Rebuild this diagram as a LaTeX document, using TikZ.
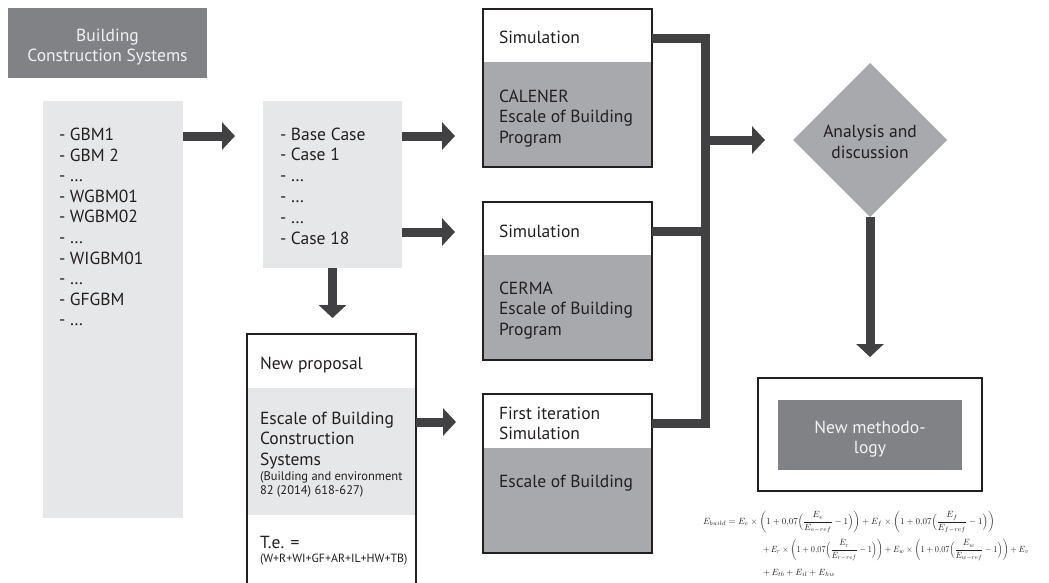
\documentclass[tikz,border=0pt]{standalone}
\usepackage{amsmath}
\usepackage{graphicx}
\usepackage{fontspec}
\setmainfont{PT Sans}
\usetikzlibrary{arrows.meta,shapes.geometric,calc}

\definecolor{boxdark}{HTML}{808285}
\definecolor{midgray}{HTML}{A7A9AC}
\definecolor{lightgray}{HTML}{E6E7E8}
\definecolor{arrowc}{HTML}{414042}
\definecolor{ink}{HTML}{231F20}
\definecolor{paper}{HTML}{F1F2F2}

\begin{document}
\begin{tikzpicture}[x=1pt,y=-1pt,
  every node/.style={inner sep=0pt, outer sep=0pt},
  bodyfont/.style={font=\fontsize{17.5}{20.6}\selectfont},
  txt/.style={bodyfont, text=ink, anchor=base west},
  smalltxt/.style={font=\fontsize{12.5}{14}\selectfont, text=ink, anchor=base west},
  midtxt/.style={bodyfont, anchor=base},
  flatbox/.style={anchor=north west, rectangle},
  boxline/.style={anchor=north west, rectangle, draw=ink, line width=1.6pt},
  bigarrow/.style={draw=arrowc, line width=9pt, -{Triangle[length=13pt 0, width=27pt 0]}},
  busline/.style={draw=arrowc, line width=9pt, line join=miter},
  eqline/.style={anchor=base west, text=ink},
]
\useasboundingbox (0,0) rectangle (1049,582);

% header
\node[flatbox, fill=boxdark, minimum width=199pt, minimum height=70pt] (head) at (8,8) {};
\node[midtxt, text=paper] (head1) at (107.5,41) {Building};
\node[midtxt, text=paper] (head2) at (107.5,61) {Construction Systems};

% list of construction systems
\node[flatbox, fill=lightgray, minimum width=140pt, minimum height=417pt] (listbox) at (43,101) {};
\foreach \t [count=\i] in {- GBM1, - GBM 2, - \ldots, - WGBM01, - WGBM02, - \ldots, - WIGBM01, - \ldots, - GFGBM, - \ldots}
  \node[txt] (gbm\i) at (59,{140.5+20.6*(\i-1)}) {\t};

% list of cases
\node[flatbox, fill=lightgray, minimum width=139pt, minimum height=167pt] (casebox) at (263,101) {};
\foreach \t [count=\i] in {- Base Case, - Case 1, - \ldots, - \ldots, - \ldots, - Case 18}
  \node[txt] (case\i) at (280,{140+20.8*(\i-1)}) {\t};

% simulation boxes
\fill[midgray] (483,62) rectangle (652,167);
\node[boxline, minimum width=169pt, minimum height=158pt] (sim1) at (483,9) {};
\node[txt] (sim1a) at (499,43) {Simulation};
\node[txt] (sim1b) at (499,102) {CALENER};
\node[txt] (sim1c) at (499,122.5) {Escale of Building};
\node[txt] (sim1d) at (499,143) {Program};

\fill[midgray] (483,255) rectangle (652,360);
\node[boxline, minimum width=169pt, minimum height=158pt] (sim2) at (483,202) {};
\node[txt] (sim2a) at (499,237) {Simulation};
\node[txt] (sim2b) at (499,294) {CERMA};
\node[txt] (sim2c) at (499,314.5) {Escale of Building};
\node[txt] (sim2d) at (499,335) {Program};

\fill[midgray] (483,448) rectangle (652,553);
\node[boxline, minimum width=169pt, minimum height=159pt] (sim3) at (483,394) {};
\node[txt] (sim3a) at (499,419) {First iteration};
\node[txt] (sim3b) at (499,439.5) {Simulation};
\node[txt] (sim3c) at (499,487) {Escale of Building};

% new proposal
\fill[lightgray] (247,388) rectangle (416,515);
\node[boxline, minimum width=169pt, minimum height=262pt] (proposal) at (247,334) {};
\node[txt] (prop1) at (260,369) {New proposal};
\node[txt] (prop2) at (260,424) {Escale of Building};
\node[txt] (prop3) at (260,444.5) {Construction};
\node[txt] (prop4) at (260,465) {Systems};
\node[smalltxt] (prop5) at (260,480) {(Building and environment};
\node[smalltxt] (prop6) at (260,494.5) {82 (2014) 618-627)};
\node[txt] (prop7) at (260,548) {T.e. =};
\node[smalltxt, font=\fontsize{11.9}{14}\selectfont] (prop8) at (260,562) {(W+R+WI+GF+AR+IL+HW+TB)};

% analysis
\node[diamond, fill=midgray, minimum width=154pt, minimum height=154pt, aspect=1] (analysis) at (870,140) {};
\node[midtxt, text=ink] (ana1) at (870,137) {Analysis and};
\node[midtxt, text=ink] (ana2) at (870,158.5) {discussion};

% new methodology
\node[flatbox, draw=ink, line width=2.5pt, minimum width=224pt, minimum height=113pt] (newmeth) at (758,378) {};
\node[flatbox, fill=boxdark, minimum width=184pt, minimum height=70pt] (newin) at (778,400) {};
\node[midtxt, text=paper] (nm1) at (870,433) {New methodo-};
\node[midtxt, text=paper] (nm2) at (870,453) {logy};

% energy formula, three lines
\node[eqline] (formula1) at (703,524) {\scalebox{0.9}{$\displaystyle E_{build} = E_e\times\biggl(1+0{,}07\Bigl(\frac{E_e}{E_{e-ref}}-1\Bigr)\biggr)+E_f\times\biggl(1+0{,}07\Bigl(\frac{E_f}{E_{f-ref}}-1\Bigr)\biggr)$}};
\node[eqline] (formula2) at (763,552) {\scalebox{0.826}[0.9]{$\displaystyle +\,E_r\times\biggl(1+0{,}07\Bigl(\frac{E_r}{E_{r-ref}}-1\Bigr)\biggr)+E_w\times\biggl(1+0{,}07\Bigl(\frac{E_w}{E_{w-ref}}-1\Bigr)\biggr)+E_v$}};
\node[eqline] (formula3) at (763,575) {\scalebox{0.9}{$\displaystyle +\,E_{tb}+E_{il}+E_{hw}$}};

% connectors
\draw[bigarrow, shorten >=28pt] ([yshift=-35pt]listbox.north east) -- ([yshift=-35pt]listbox.north east -| casebox.west);
\draw[bigarrow, shorten >=28pt] ([yshift=-35pt]casebox.north east) -- ([yshift=-35pt]casebox.north east -| sim1.west);
\draw[bigarrow, shorten >=28pt] ([yshift=-131pt]casebox.north east) -- ([yshift=-131pt]casebox.north east -| sim2.west);
\draw[bigarrow, shorten >=16pt] (casebox.south) -- (casebox.south |- proposal.north);
\draw[bigarrow, shorten >=27pt] ([yshift=-88pt]proposal.north east) -- ([yshift=-88pt]proposal.north east -| sim3.west);

\coordinate (s1out) at ($(sim1.north east)+(0,29)$);
\coordinate (s2out) at ($(sim2.north east)+(0,29)$);
\coordinate (s3out) at ($(sim3.north east)+(0,29.5)$);
\coordinate (bustop) at ($(s1out)+(53.5,0)$);
\coordinate (busbot) at (bustop |- s3out);
\draw[busline] (s1out) -- (bustop) -- (busbot) -- (s3out);
\draw[busline] (s2out) -- (s2out -| bustop);
\draw[bigarrow, shorten >=28pt] (bustop |- analysis.west) -- (analysis.west);
\draw[bigarrow, shorten >=21pt] (analysis.south) -- (analysis.south |- newmeth.north);
\end{tikzpicture}
\end{document}
